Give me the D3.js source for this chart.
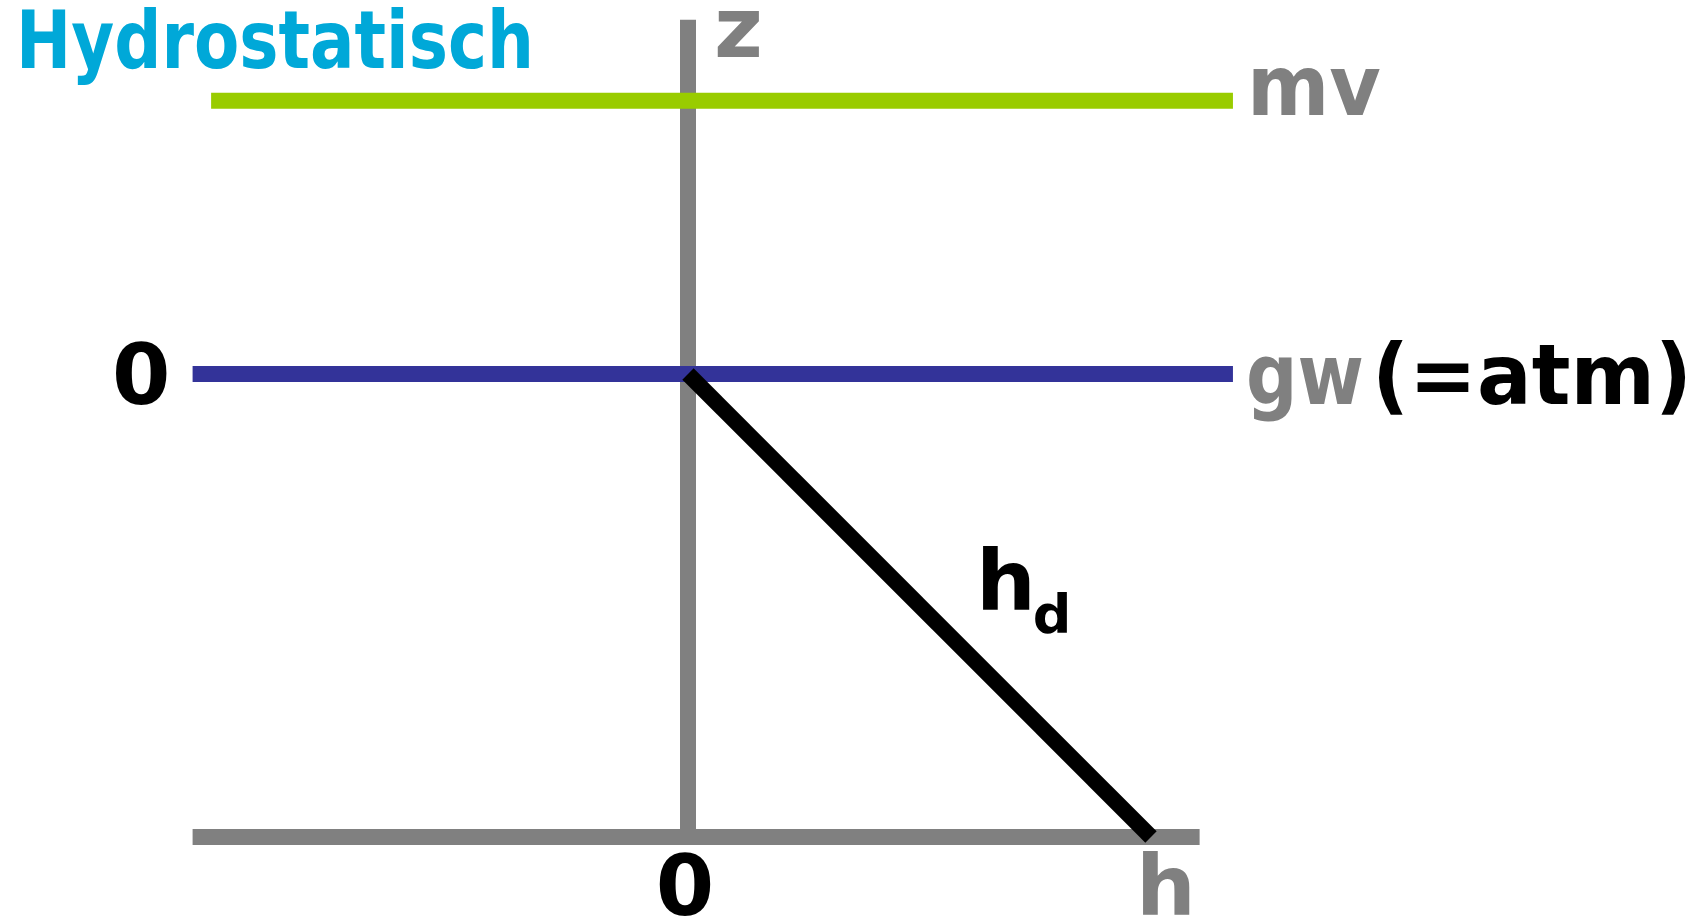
<!DOCTYPE html>
<html>
<head>
<meta charset="utf-8">
<script src="https://cdn.jsdelivr.net/npm/d3@7"></script>
<style>
  body { margin: 0; background: #fff; }
  text { font-family: "DejaVu Sans", Verdana, sans-serif; font-weight: bold; }
</style>
</head>
<body>
<div class="canvas"></div>
<script>
const dims = {width: 1708, height: 918};

// levels (z in units of the gw-to-bottom depth)
const levelNames = ['mv', 'gw'];
const levelZ = [0.59, 0];
const levelFrom = [-1.03, -1.07];
const levelTo = [1.177, 1.177];
const levelColors = ['#99cc00', '#333399'];

// axes extents
const axisH = [-1.07, 1.105];
const axisZ = [-1, 0.765];

// hydrostatic pressure head line hd = -z
const hdH = [0, 1];
const hdZ = [0, -1];

const x = d3.scaleLinear().domain([0, 1]).range([688, 1151]);
const y = d3.scaleLinear().domain([0, -1]).range([374, 837]);

const grey = '#808080';
const lw = 16;

const svg = d3.select('.canvas')
    .append('svg').attr('width', dims.width).attr('height', dims.height);

// title
svg.append('text')
    .attr('x', 16).attr('y', 68)
    .attr('font-size', 80)
    .attr('textLength', 518).attr('lengthAdjust', 'spacingAndGlyphs')
    .attr('fill', '#00a8d8')
    .text('Hydrostatisch');

// vertical z axis
svg.append('line')
    .attr('x1', x(0)).attr('x2', x(0))
    .attr('y1', y(axisZ[1])).attr('y2', y(axisZ[0]))
    .attr('stroke', grey).attr('stroke-width', lw);

// horizontal h axis
svg.append('line')
    .attr('x1', x(axisH[0])).attr('x2', x(axisH[1]))
    .attr('y1', y(-1)).attr('y2', y(-1))
    .attr('stroke', grey).attr('stroke-width', lw);

// level lines
svg.selectAll('.level')
    .data(levelNames)
    .enter().append('line')
    .attr('class', 'level')
    .attr('x1', (d, i) => x(levelFrom[i]))
    .attr('x2', (d, i) => x(levelTo[i]))
    .attr('y1', (d, i) => y(levelZ[i]))
    .attr('y2', (d, i) => y(levelZ[i]))
    .attr('stroke', (d, i) => levelColors[i])
    .attr('stroke-width', lw);

// hd line
const line = d3.line().x(d => x(d[0])).y(d => y(d[1]));
svg.append('path')
    .attr('d', line(hdH.map((h, i) => [h, hdZ[i]])))
    .attr('fill', 'none')
    .attr('stroke', '#000')
    .attr('stroke-width', lw);

// labels
svg.append('text')
    .attr('x', x(0) + 26).attr('y', 57)
    .attr('font-size', 84).attr('fill', grey)
    .text('z');

svg.append('text')
    .attr('x', x(levelTo[0]) + 14).attr('y', y(levelZ[0]) + 14)
    .attr('font-size', 84).attr('fill', grey)
    .attr('textLength', 134).attr('lengthAdjust', 'spacingAndGlyphs')
    .text('mv');

svg.append('text')
    .attr('x', x(levelTo[1]) + 13).attr('y', y(0) + 30)
    .attr('font-size', 84).attr('fill', grey)
    .attr('textLength', 118).attr('lengthAdjust', 'spacingAndGlyphs')
    .text('gw');

svg.append('text')
    .attr('x', 1372).attr('y', y(0) + 30)
    .attr('font-size', 84).attr('fill', '#000')
    .attr('textLength', 320).attr('lengthAdjust', 'spacingAndGlyphs')
    .text('(=atm)');

// zero on z
svg.append('text')
    .attr('x', 112).attr('y', y(0) + 30)
    .attr('font-size', 84).attr('fill', '#000')
    .text('0');

// zero on h
svg.append('text')
    .attr('x', x(0) - 3).attr('y', 915)
    .attr('text-anchor', 'middle')
    .attr('font-size', 84).attr('fill', '#000')
    .text('0');

svg.append('text')
    .attr('x', 1136).attr('y', 915)
    .attr('font-size', 84).attr('fill', grey)
    .text('h');

// hd label
const hd = svg.append('text')
    .attr('x', 976).attr('y', 610)
    .attr('font-size', 84).attr('fill', '#000');
hd.append('tspan').text('h');
hd.append('tspan').attr('font-size', 54).attr('dy', 23).attr('dx', -3).text('d');
</script>
</body>
</html>
